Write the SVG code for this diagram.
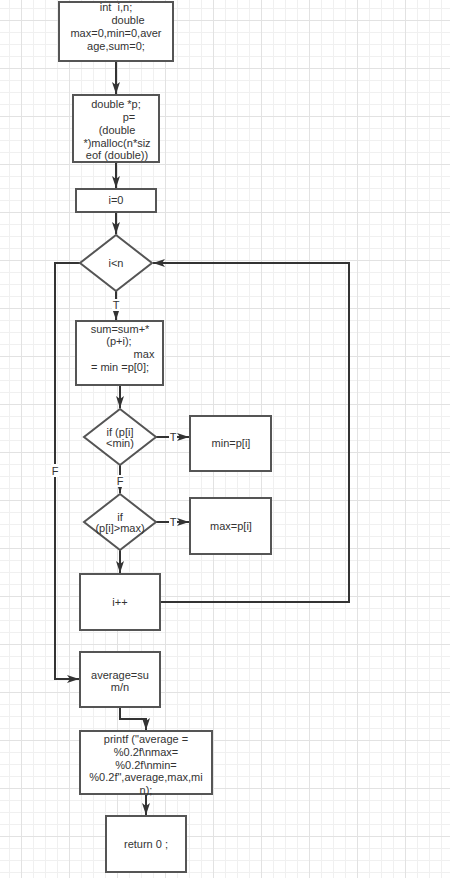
<svg xmlns="http://www.w3.org/2000/svg" width="450" height="878" viewBox="0 0 450 878">
<defs>
<pattern id="grid" x="21" y="20" width="48" height="48" patternUnits="userSpaceOnUse">
<rect width="48" height="48" fill="#ffffff"/>
<path d="M12.5,0V48M24.5,0V48M36.5,0V48M0,12.5H48M0,24.5H48M0,36.5H48" stroke="#f0f0f0" stroke-width="1" fill="none"/>
<path d="M0.5,0V48M0,0.5H48" stroke="#e2e2e2" stroke-width="1" fill="none"/>
</pattern>
<marker id="arr" viewBox="0 0 12 8" refX="12" refY="4" markerWidth="12" markerHeight="8" markerUnits="userSpaceOnUse" orient="auto">
<path d="M0,0 L12,4 L0,8 L3,4 z" fill="#333333"/>
</marker>
</defs>
<style>
.box{fill:#ffffff;stroke:#555555;stroke-width:2}
.t{font-family:"Liberation Sans",Arial,sans-serif;font-size:11px;fill:#333333;text-anchor:middle;dominant-baseline:central}
.c{fill:none;stroke:#333333;stroke-width:2}
.ca{fill:none;stroke:#333333;stroke-width:2;marker-end:url(#arr)}
.lb{fill:#ffffff}
</style>
<rect width="450" height="878" fill="url(#grid)"/>
<g id="connectors">
<path class="ca" d="M116,61V94"/>
<path class="ca" d="M116,162V188"/>
<path class="ca" d="M116,212V234"/>
<path class="ca" d="M116,291V320"/>
<path class="ca" d="M120,385V408"/>
<path class="ca" d="M156,437H189"/>
<path class="ca" d="M120,465V493"/>
<path class="ca" d="M156,522H189"/>
<path class="ca" d="M120,550V573"/>
<path class="ca" d="M160,602H349V263H153"/>
<path class="ca" d="M80,263H55V679H79"/>
<path class="ca" d="M120,707V719H146V730"/>
<path class="ca" d="M146,794V815"/>
<rect class="lb" x="112" y="299" width="8" height="12"/>
<text class="t" x="116" y="305">T</text>
<rect class="lb" x="169" y="431" width="8" height="12"/>
<text class="t" x="173" y="437">T</text>
<rect class="lb" x="116" y="475" width="8" height="12"/>
<text class="t" x="120" y="481">F</text>
<rect class="lb" x="169" y="516" width="8" height="12"/>
<text class="t" x="173" y="522">T</text>
<rect class="lb" x="51" y="464" width="8" height="13"/>
<text class="t" x="55" y="471">F</text>
</g>
<g id="n1">
<rect class="box" x="59" y="2" width="114" height="59"/>
<text class="t" x="116" y="7" xml:space="preserve">int  i,n;</text>
<text class="t" x="128" y="20">double</text>
<text class="t" x="116" y="33">max=0,min=0,aver</text>
<text class="t" x="116" y="46">age,sum=0;</text>
</g>
<g id="n2">
<rect class="box" x="73" y="95" width="86" height="67"/>
<text class="t" x="116" y="104">double *p;</text>
<text class="t" x="129" y="117">p=</text>
<text class="t" x="117" y="130">(double</text>
<text class="t" x="117" y="143">*)malloc(n*siz</text>
<text class="t" x="117" y="155">eof (double))</text>
</g>
<g id="n3">
<rect class="box" x="76" y="189" width="80" height="23"/>
<text class="t" x="116" y="200">i=0</text>
</g>
<g id="n4">
<path class="box" d="M116,235L152,263L116,291L80,263Z"/>
<text class="t" x="116" y="263">i&lt;n</text>
</g>
<g id="n5">
<rect class="box" x="76" y="321" width="87" height="64"/>
<text class="t" x="120" y="329">sum=sum+*</text>
<text class="t" x="119" y="341">(p+i);</text>
<text class="t" x="144" y="354">max</text>
<text class="t" x="120" y="367">= min =p[0];</text>
</g>
<g id="n6">
<path class="box" d="M120,409L156,437L120,465L84,437Z"/>
<text class="t" x="120" y="432">if (p[i]</text>
<text class="t" x="120" y="443">&lt;min)</text>
</g>
<g id="n7">
<rect class="box" x="190" y="416" width="81" height="55"/>
<text class="t" x="231" y="443">min=p[i]</text>
</g>
<g id="n8">
<path class="box" d="M120,494L156,522L120,550L84,522Z"/>
<text class="t" x="120" y="517">if</text>
<text class="t" x="120" y="528">(p[i]&gt;max)</text>
</g>
<g id="n9">
<rect class="box" x="190" y="498" width="81" height="56"/>
<text class="t" x="231" y="526">max=p[i]</text>
</g>
<g id="n10">
<rect class="box" x="80" y="574" width="80" height="56"/>
<text class="t" x="120" y="602">i++</text>
</g>
<g id="n11">
<rect class="box" x="80" y="652" width="80" height="55"/>
<text class="t" x="120" y="675">average=su</text>
<text class="t" x="120" y="687">m/n</text>
</g>
<g id="n12">
<rect class="box" x="80" y="731" width="132" height="63"/>
<text class="t" x="146" y="739">printf ("average =</text>
<text class="t" x="146" y="752">%0.2f\nmax=</text>
<text class="t" x="146" y="765">%0.2f\nmin=</text>
<text class="t" x="146" y="777">%0.2f",average,max,mi</text>
<text class="t" x="146" y="790">n);</text>
</g>
<g id="n13">
<rect class="box" x="106" y="816" width="80" height="56"/>
<text class="t" x="146" y="844">return 0 ;</text>
</g>
</svg>
